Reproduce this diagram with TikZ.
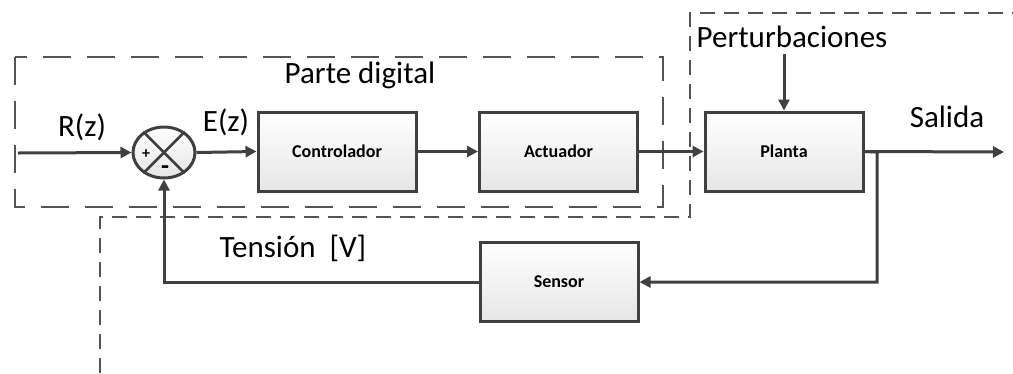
\documentclass[tikz,border=0pt]{standalone}
\usepackage{fontspec}
\setmainfont{Carlito}
\usetikzlibrary{arrows.meta,shapes.geometric,shadows}
\definecolor{ln}{HTML}{404040}
\definecolor{bxb}{HTML}{E6E6E6}
\tikzset{
  blk/.style={draw=ln, line width=3pt, top color=white, bottom color=bxb,
    minimum width=158pt, minimum height=79pt, font=\fontsize{18}{21}\selectfont\bfseries,
    drop shadow={shadow xshift=1.5pt, shadow yshift=-1.5pt, fill=black!20}},
  arr/.style={draw=ln, line width=3pt, -{Triangle[length=11pt,width=11pt]}},
  wire/.style={draw=ln, line width=3pt},
  lbl/.style={font=\fontsize{31}{36}\selectfont, inner sep=0pt},
  longdash/.style={draw=ln!90, line width=1.6pt, dash pattern=on 28pt off 16pt},
  shortdash/.style={draw=ln!90, line width=1.6pt, dash pattern=on 15pt off 9pt}
}
\begin{document}
\begin{tikzpicture}[x=1pt,y=-1pt]
\useasboundingbox (0,0) rectangle (1013,373);
% dashed regions
\draw[longdash] (15,57) rectangle (663,207);
\draw[shortdash] (100,373) -- (100,217) -- (690,217) -- (690,13) -- (1013,13);
% blocks
\node[blk] (ctrl) at (337,151.5) {Controlador};
\node[blk] (act) at (558.5,151.5) {Actuador};
\node[blk] (plant) at (784,151.5) {Planta};
\node[blk] (sensor) at (559,282) {Sensor};
% summing junction
\node[draw=ln, line width=3pt, ellipse, minimum width=62pt, minimum height=51pt,
  top color=white, bottom color=bxb, inner sep=0pt] (sum) at (164,152.5) {};
\draw[ln, line width=2.5pt] (sum.135) -- (sum.-45);
\draw[ln, line width=2.5pt] (sum.45) -- (sum.-135);
\node[font=\fontsize{16}{16}\selectfont\bfseries, inner sep=0pt] (plus) at (146,154) {+};
\node[font=\fontsize{26}{26}\selectfont\bfseries, inner sep=0pt] (minus) at (165,170) {-};
% labels
\node[lbl] (rz) at (82,127) {R(z)};
\node[lbl] (ez) at (226,122) {E(z)};
\node[lbl] (pd) at (360,75) {Parte digital};
\node[lbl] (pert) at (792,37) {Perturbaciones};
\node[lbl] (sal) at (947,117) {Salida};
\node[lbl] (ten) at (293,248) {Tensión\ \ [V]};
% connectors
\coordinate (in) at (18,153);
\coordinate (out) at (1004,152);
\coordinate (tap) at (877,152);
\draw[arr] (in) -- (sum.west);
\draw[arr] (sum.east) -- (ctrl.west);
\draw[arr] (ctrl.east) -- (act.west);
\draw[arr] (act.east) -- (plant.west);
\draw[arr] (plant.east) -- (out);
\draw[arr] (plant.east) -- (tap) |- (sensor.east);
\draw[arr] (sensor.west) -| (sum.south);
\draw[arr] (pert.south -| plant.north) ++(0,6) -- (plant.north);
\end{tikzpicture}
\end{document}
